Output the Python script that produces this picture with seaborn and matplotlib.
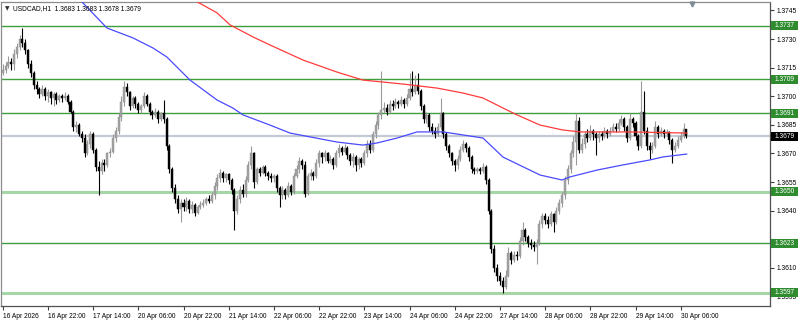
import numpy as np
import pandas as pd
import matplotlib
matplotlib.use("Agg")
import matplotlib.pyplot as plt
import seaborn as sns
from matplotlib.patches import Rectangle
from matplotlib.transforms import blended_transform_factory

# ---------------- data (prices in pips above BASE) ----------------
BASE = 1.3600
PIP = 0.0001
first_open = 112
closes = [
    114, 116, 118, 117, 122, 126, 130, 128, 124, 117,
    112, 106, 104, 101, 104, 100, 102, 99, 101, 98,
    100, 99, 100, 97, 92, 84, 85, 80, 78, 70,
    75, 80, 72, 63, 61, 65, 64, 70, 71, 78,
    82, 89, 97, 105, 102, 95, 99, 96, 93, 95,
    100, 96, 92, 90, 92, 88, 91, 88, 74, 62,
    52, 46, 41, 44, 42, 45, 41, 43, 39, 42,
    43, 44, 46, 45, 48, 53, 57, 60, 57, 59,
    56, 51, 40, 46, 51, 49, 56, 64, 70, 55,
    62, 60, 63, 60, 58, 57, 58, 52, 48, 51,
    48, 53, 50, 58, 62, 66, 64, 49, 58, 60,
    58, 65, 70, 68, 70, 66, 67, 64, 70, 73,
    71, 73, 69, 66, 68, 64, 67, 65, 70, 75,
    72, 80, 85, 90, 93, 94, 92, 96, 95, 97,
    96, 98, 96, 99, 104, 102, 106, 103, 95, 88,
    90, 84, 82, 80, 84, 91, 80, 74, 70, 66,
    64, 67, 72, 75, 73, 68, 62, 61, 62, 61,
    63, 56, 40, 20, 10, 6, 3, 0, 6, 18,
    14, 17, 16, 24, 30, 26, 23, 22, 21, 23,
    33, 37, 35, 33, 38, 34, 40, 44, 48, 56,
    62, 70, 76, 87, 72, 75, 80, 78, 82, 80,
    78, 80, 79, 82, 80, 82, 84, 83, 86, 88,
    84, 78, 88, 86, 79, 74, 92, 82, 74, 72,
    74, 84, 80, 82, 80, 81, 77, 72, 74, 77,
    79, 83, 79,
]
highs = [
    117, 118, 121, 120, 125, 128, 132, 136, 130, 125,
    119, 113, 108, 105, 106, 105, 104, 103, 102, 102,
    101, 101, 102, 101, 98, 93, 87, 86, 82, 80,
    77, 82, 81, 73, 66, 67, 67, 71, 73, 80,
    84, 91, 100, 108, 107, 103, 100, 100, 97, 96,
    102, 101, 97, 93, 94, 93, 92, 98, 89, 75,
    63, 54, 48, 46, 46, 47, 46, 45, 44, 43,
    45, 46, 47, 48, 50, 55, 59, 62, 61, 60,
    60, 57, 52, 48, 53, 54, 58, 66, 74, 71,
    63, 63, 64, 64, 61, 60, 59, 59, 53, 53,
    52, 55, 54, 60, 64, 68, 67, 66, 60, 62,
    61, 67, 72, 71, 72, 71, 69, 68, 72, 75,
    74, 75, 74, 70, 70, 69, 68, 68, 72, 77,
    77, 82, 87, 92, 113, 97, 96, 98, 98, 99,
    98, 100, 99, 101, 112, 113, 111, 112, 104, 96,
    92, 91, 86, 84, 86, 99, 92, 81, 75, 71,
    67, 69, 74, 77, 76, 74, 69, 63, 63, 63,
    65, 64, 57, 41, 22, 12, 8, 5, 9, 21,
    19, 19, 19, 26, 34, 31, 27, 25, 24, 25,
    35, 39, 39, 37, 40, 39, 42, 46, 50, 58,
    64, 72, 79, 91, 89, 78, 82, 83, 85, 83,
    81, 82, 82, 84, 83, 84, 86, 86, 88, 90,
    89, 85, 91, 89, 87, 80, 108, 103, 84, 76,
    76, 87, 85, 84, 83, 83, 82, 78, 76, 79,
    81, 86, 83,
]
lows = [
    111, 112, 115, 114, 114, 120, 124, 126, 122, 115,
    110, 104, 101, 99, 100, 98, 97, 96, 95, 96,
    97, 97, 98, 96, 91, 82, 81, 79, 76, 68,
    69, 73, 70, 61, 48, 59, 61, 63, 68, 70,
    76, 80, 87, 95, 100, 93, 94, 94, 91, 91,
    94, 95, 90, 88, 89, 86, 87, 86, 72, 60,
    50, 44, 39, 34, 40, 40, 39, 39, 37, 38,
    41, 42, 43, 44, 44, 46, 51, 55, 55, 55,
    54, 49, 30, 38, 44, 47, 47, 55, 62, 52,
    54, 58, 59, 58, 56, 55, 55, 50, 42, 46,
    46, 47, 48, 49, 57, 60, 62, 47, 48, 56,
    56, 57, 63, 65, 66, 65, 65, 62, 63, 68,
    69, 70, 67, 64, 63, 61, 62, 63, 64, 68,
    70, 71, 78, 83, 88, 91, 90, 91, 93, 94,
    94, 95, 94, 95, 98, 100, 101, 101, 93, 86,
    86, 82, 80, 78, 79, 83, 78, 72, 68, 64,
    61, 62, 66, 71, 71, 66, 60, 59, 60, 59,
    60, 54, 38, 18, 8, 3, 1, -3, -1, 5,
    12, 13, 14, 15, 22, 24, 21, 20, 19, 12,
    22, 31, 33, 31, 32, 29, 33, 38, 42, 46,
    54, 60, 68, 64, 70, 70, 73, 76, 77, 77,
    69, 76, 77, 78, 78, 79, 81, 81, 82, 85,
    82, 76, 77, 84, 77, 72, 73, 80, 72, 67,
    70, 73, 78, 79, 78, 79, 75, 65, 71, 73,
    76, 78, 78,
]

# moving averages (bar index, pips above BASE)
ma_blue_bar = [27.4, 36.9, 46.1, 53.2, 58.1, 66.3, 75.9, 81.5, 85.1, 94.6, 101.7,
               118.3, 127.5, 132.5, 139.6, 146.7, 150.2, 155.9, 160.8, 170.0,
               177.1, 190.2, 198.0, 200.8, 210.4, 219.6, 229.1, 233.8, 242.2]
ma_blue_val = [150.5, 135.8, 130.6, 125.3, 120.6, 108.5, 98.0, 93.8, 90.2, 84.9, 80.7,
               76.0, 74.4, 75.5, 78.1, 81.3, 81.3, 81.3, 80.2, 78.1,
               68.1, 58.7, 56.1, 57.7, 61.3, 64.0, 66.6, 68.2, 69.7]
ma_red_bar = [66.3, 75.9, 80.5, 88.6, 94.6, 106.3, 118.3, 127.5, 141.7, 153.7,
              162.9, 170.0, 178.5, 182.1, 190.2, 198.3, 204.4, 222.0, 242.2]
ma_red_val = [151.6, 143.7, 137.4, 131.1, 126.9, 119.0, 112.7, 108.5, 106.4, 104.3,
              101.7, 99.1, 92.8, 90.2, 84.9, 82.3, 81.3, 81.3, 80.7]

time_label_bars = [0, 16, 32, 48, 64, 80, 96, 112, 128, 144, 160, 176, 192, 208, 224, 240]
time_labels = ["16 Apr 2026", "16 Apr 22:00", "17 Apr 14:00", "20 Apr 06:00",
               "20 Apr 22:00", "21 Apr 14:00", "22 Apr 06:00", "22 Apr 22:00",
               "23 Apr 14:00", "24 Apr 06:00", "24 Apr 22:00", "27 Apr 14:00",
               "28 Apr 06:00", "28 Apr 22:00", "29 Apr 14:00", "30 Apr 06:00"]
price_ticks = [1.3745, 1.3730, 1.3715, 1.3700, 1.3685, 1.3670, 1.3655,
               1.3640, 1.3625, 1.3610, 1.3595]
hidden_ticks = [1.3625]          # covered by the 1.3623 level box in the reference
dark_levels = [1.3737, 1.3709, 1.3691, 1.3623]
light_levels = [1.3650, 1.3597]
current_price = 1.3679
header = "USDCAD,H1  1.3683 1.3683 1.3678 1.3679"

# ---------------- figure ----------------
sns.set_theme(style="white")
plt.rcParams["font.family"] = ["Liberation Sans Narrow", "Liberation Sans", "DejaVu Sans"]
FS = 4.8

W, H = 800, 321
fig = plt.figure(figsize=(W / 100, H / 100), dpi=100)
fig.patch.set_facecolor("white")
ax_left, ax_right, ax_top, ax_bot = 1, 770, 1.5, 306
ax = fig.add_axes([ax_left / W, (H - ax_bot) / H, (ax_right - ax_left) / W, (ax_bot - ax_top) / H])
ax.set_facecolor("white")

n = len(closes)
idx = np.arange(n)
c = BASE + np.array(closes, float) * PIP
o = BASE + np.array([first_open] + closes[:-1], float) * PIP
h = np.maximum(BASE + np.array(highs, float) * PIP, np.maximum(o, c))
l = np.minimum(BASE + np.array(lows, float) * PIP, np.minimum(o, c))
bull = c >= o

# level lines
for p in dark_levels:
    ax.axhline(p, color="#3f9c3f", lw=1.0, zorder=1)
for p in light_levels:
    ax.axhline(p, color="#a6d6a6", lw=2.2, zorder=1)
ax.axhline(current_price, color="#c3cad3", lw=1.6, zorder=1)

# candles
bull_col, bear_col = "#a3a3a3", "#000000"
ax.vlines(idx[bull], l[bull], h[bull], color="#9a9a9a", lw=0.8, zorder=2)
ax.vlines(idx[~bull], l[~bull], h[~bull], color=bear_col, lw=0.8, zorder=2)
body_lo = np.minimum(o, c)
body_h = np.maximum(np.abs(c - o), 0.3 * PIP)
ax.bar(idx[bull], body_h[bull], bottom=body_lo[bull], width=0.72,
       color=bull_col, edgecolor="#8c8c8c", linewidth=0.3, zorder=3)
ax.bar(idx[~bull], body_h[~bull], bottom=body_lo[~bull], width=0.72,
       color=bear_col, edgecolor=bear_col, linewidth=0.3, zorder=3)

# moving averages
blue_df = pd.DataFrame({"bar": ma_blue_bar, "price": BASE + np.array(ma_blue_val) * PIP})
red_df = pd.DataFrame({"bar": ma_red_bar, "price": BASE + np.array(ma_red_val) * PIP})
sns.lineplot(data=blue_df, x="bar", y="price", ax=ax, color="#4a4aff", lw=0.9,
             sort=False, estimator=None, zorder=4)
sns.lineplot(data=red_df, x="bar", y="price", ax=ax, color="#ff3c3c", lw=0.9,
             sort=False, estimator=None, zorder=4)

# limits: bar i sits at pixel 2.7 + 2.825*i
px_per_bar = 2.825
x0 = -(2.7 - ax_left) / px_per_bar
x1 = x0 + (ax_right - ax_left) / px_per_bar
ax.set_xlim(x0, x1)
px_per_price = 1.907 / PIP
y_top = 1.3737 + (25.7 - ax_top) / px_per_price
y_bot = 1.3737 - (ax_bot - 25.7) / px_per_price
ax.set_ylim(y_bot, y_top)
ax.set_xlabel("")
ax.set_ylabel("")

# axes / ticks
ax.yaxis.tick_right()
ax.set_yticks(price_ticks)
ax.set_yticklabels(["" if p in hidden_ticks else f"{p:.4f}" for p in price_ticks])
ax.tick_params(axis="y", right=True, left=False, length=3, width=0.8, color="#404040",
               labelsize=FS, pad=2, labelcolor="#000000")
ax.set_xticks(time_label_bars)
ax.set_xticklabels(time_labels, ha="left")
ax.tick_params(axis="x", bottom=True, length=3, width=0.8, color="#404040",
               labelsize=FS, pad=1.8, labelcolor="#000000")
for lbl in ax.get_xticklabels():
    lbl.set_horizontalalignment("left")
for s in ["left", "top"]:
    ax.spines[s].set_color("#8c8c8c")
    ax.spines[s].set_linewidth(0.9)
for s in ["right", "bottom"]:
    ax.spines[s].set_color("#505050")
    ax.spines[s].set_linewidth(0.9)

# price label boxes on the right axis
trans = blended_transform_factory(ax.transAxes, ax.transData)
bx = (771 - ax_left) / (ax_right - ax_left)
bw = 27 / (ax_right - ax_left)
bh = 9 / px_per_price
for p, fc in [(q, "#2e8b2e") for q in dark_levels + light_levels] + [(current_price, "#000000")]:
    ax.add_patch(Rectangle((bx, p - bh / 2), bw, bh, transform=trans, facecolor=fc,
                           edgecolor="none", clip_on=False, zorder=6))
    ax.text(bx + bw / 2, p, f"{p:.4f}", transform=trans, color="white", fontsize=FS,
            ha="center", va="center", clip_on=False, zorder=7)

# header and chart-shift marker
fig.text(5 / W, 1 - 9 / H, "▼", fontsize=4.2, color="#303030", va="center", ha="left",
         family=["DejaVu Sans"])
fig.text(13 / W, 1 - 9 / H, header, fontsize=FS, color="#000000", va="center", ha="left")
ax.plot([(692 - 2.7) / px_per_bar], [1.3737 + (25.7 - 3.5) / px_per_price], marker="v",
        ms=3.5, color="#7d8a97", clip_on=False, zorder=8)

fig.savefig("out.png", dpi=100, facecolor="white")
